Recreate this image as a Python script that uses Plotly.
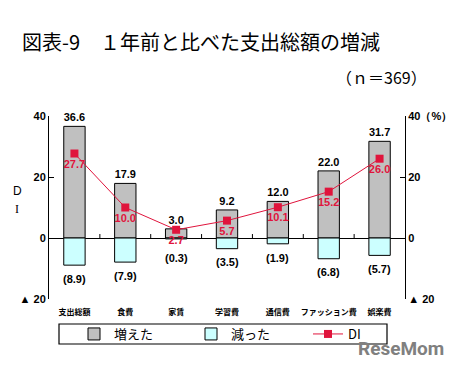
import plotly.graph_objects as go

categories = ["支出総額", "食費", "家賃", "学習費", "通信費", "ファッション費", "娯楽費"]
increased = [36.6, 17.9, 3.0, 9.2, 12.0, 22.0, 31.7]
decreased = [8.9, 7.9, 0.3, 3.5, 1.9, 6.8, 5.7]
di = [27.7, 10.0, 2.7, 5.7, 10.1, 15.2, 26.0]
left_ticks = [40, 20, 0, -20]
left_ticktext = ["40", "20", "0", "▲ 20"]
right_ticktext = ["40（%）", "20", "0", "▲ 20"]

# the page body has an 8px margin, so the figure is drawn 8px smaller and
# every reference pixel position is shifted by that offset
OFF = 8
W, H = 463 - OFF, 367 - OFF
L, R, T, B = 49 - OFF, 405 - OFF, 116 - OFF, 299 - OFF

def px_x(p):
    return (p - OFF - L) / (R - L)

def px_y(p):
    return (B - (p - OFF)) / (B - T)

num_font = dict(family="Liberation Sans", size=11, color="black", weight="bold")
red = "#e0143c"
jp = "Noto Sans CJK JP"

fig = go.Figure()
fig.add_trace(go.Bar(
    x=categories, y=increased, name="増えた", width=0.42,
    marker=dict(color="#c0c0c0", line=dict(color="black", width=1)),
    text=[f"{v:.1f}" for v in increased], textposition="outside",
    textfont=num_font, cliponaxis=False,
))
fig.add_trace(go.Bar(
    x=categories, y=[-v for v in decreased], name="減った", width=0.42,
    marker=dict(color="#ccffff", line=dict(color="black", width=1)),
))
fig.add_trace(go.Scatter(
    x=categories, y=di, name="DI", mode="lines+markers+text",
    line=dict(color=red, width=1),
    marker=dict(symbol="square", size=8, color=red),
    text=[f"{v:.1f}" for v in di], textposition="bottom center",
    textfont=dict(family="Liberation Sans", size=11, color=red, weight="bold"),
    cliponaxis=False,
))
# invisible trace to activate right axis
fig.add_trace(go.Scatter(x=categories, y=di, yaxis="y2", mode="none",
                         showlegend=False, hoverinfo="skip"))

shapes = []
# category boundary tick marks on the zero line
for i in range(len(categories) - 1):
    shapes.append(dict(type="line", xref="x", yref="y", x0=i + 0.5, x1=i + 0.5,
                       y0=0, y1=1.3, line=dict(color="black", width=1)))
# legend border
shapes.append(dict(type="rect", xref="paper", yref="paper",
                   x0=px_x(59), x1=px_x(387), y0=px_y(344), y1=px_y(324),
                   line=dict(color="black", width=1.2)))

annotations = [
    dict(text="（ｎ＝369）", xref="paper", yref="paper", x=px_x(429), y=px_y(77),
         xanchor="right", yanchor="middle", showarrow=False,
         font=dict(family=jp, size=16, color="black")),
    dict(text="D", xref="paper", yref="paper", x=px_x(17), y=px_y(191),
         xanchor="center", yanchor="middle", showarrow=False,
         font=dict(family="Liberation Sans", size=12, color="black")),
    dict(text="I", xref="paper", yref="paper", x=px_x(17), y=px_y(209),
         xanchor="center", yanchor="middle", showarrow=False,
         font=dict(family="Liberation Serif", size=12, color="black")),
    dict(text="<b>ReseMom</b>", xref="paper", yref="paper", x=px_x(401), y=px_y(348),
         xanchor="center", yanchor="middle", showarrow=False,
         font=dict(family="Roboto", size=19, color="#808080")),
]
# labels of the decreased bars, kept clear of the zero line
for c, v in zip(categories, decreased):
    annotations.append(dict(text=f"({v:.1f})", xref="x", yref="y", x=c,
                            y=min(-v - 4.5, -6.5), yanchor="middle",
                            showarrow=False, font=num_font))

tick_font = dict(family="Liberation Sans", size=11, color="black", weight="bold")

fig.update_layout(
    width=W, height=H,
    margin=dict(l=L, r=W - R, t=T, b=H - B, pad=0, autoexpand=False),
    paper_bgcolor="white", plot_bgcolor="white",
    barmode="relative",
    title=dict(text="図表-9　１年前と比べた支出総額の増減", x=(22 - OFF) / W, xanchor="left",
               y=1 - (43 - OFF) / H, yanchor="middle",
               font=dict(family=jp, size=20, color="black")),
    xaxis=dict(showline=False, showgrid=False, zeroline=False, ticks="",
               tickfont=dict(family=jp, size=8, color="black", weight="bold"),
               ticklabelstandoff=7, fixedrange=True),
    yaxis=dict(range=[-20, 40], tickvals=left_ticks, ticktext=left_ticktext,
               showline=True, linecolor="black", linewidth=1,
               ticks="inside", ticklen=5, tickcolor="black",
               showgrid=False, zeroline=True, zerolinecolor="black", zerolinewidth=1,
               tickfont=tick_font),
    yaxis2=dict(range=[-20, 40], tickvals=left_ticks, ticktext=right_ticktext,
                overlaying="y", side="right",
                showline=True, linecolor="black", linewidth=1,
                ticks="inside", ticklen=5, tickcolor="black",
                showgrid=False, zeroline=False,
                tickfont=tick_font),
    legend=dict(orientation="h", xref="container", yref="container",
                x=(74 - OFF) / W, xanchor="left", y=1 - (334 - OFF) / H, yanchor="middle",
                entrywidth=72, entrywidthmode="pixels", bgcolor="rgba(0,0,0,0)",
                borderwidth=0, font=dict(family=jp, size=13, color="black"),
                traceorder="normal"),
    shapes=shapes, annotations=annotations,
    showlegend=True,
)

fig.write_html("out.html")
